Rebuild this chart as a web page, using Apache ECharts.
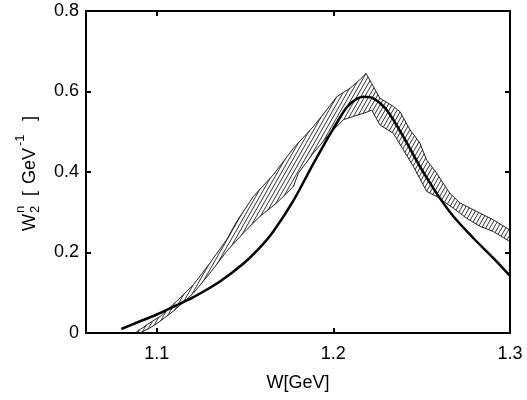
<!DOCTYPE html>
<html>
<head>
<meta charset="utf-8">
<script src="https://cdn.jsdelivr.net/npm/echarts@6/dist/echarts.min.js"></script>
<style>
html,body{margin:0;padding:0;background:#fff;}
#chart{width:527px;height:400px;}
</style>
</head>
<body>
<div id="chart"></div>
<script>
// Theory curve (thick line)
const theoryX = [1.080, 1.090, 1.100, 1.110, 1.1208, 1.1358, 1.149, 1.158, 1.166, 1.1774, 1.1887, 1.200, 1.2076, 1.213, 1.217, 1.2226, 1.2302, 1.2396, 1.249, 1.2585, 1.2679, 1.2792, 1.2906, 1.300];
const theoryY = [0.010, 0.028, 0.046, 0.066, 0.089, 0.128, 0.172, 0.210, 0.252, 0.329, 0.421, 0.508, 0.561, 0.581, 0.587, 0.583, 0.554, 0.488, 0.414, 0.347, 0.290, 0.236, 0.186, 0.142];

// Data band: upper edge
const upperX = [1.0877, 1.0950, 1.1019, 1.1113, 1.1208, 1.1302, 1.1396, 1.1453, 1.1547, 1.166, 1.1774, 1.1887, 1.1962, 1.2019, 1.2094, 1.215, 1.2185, 1.2217, 1.2264, 1.2340, 1.2377, 1.2434, 1.249, 1.2528, 1.2585, 1.266, 1.2717, 1.2811, 1.2906, 1.300];
const upperY = [0.000, 0.022, 0.041, 0.079, 0.120, 0.174, 0.232, 0.277, 0.339, 0.393, 0.459, 0.513, 0.554, 0.587, 0.608, 0.629, 0.645, 0.620, 0.583, 0.563, 0.550, 0.505, 0.472, 0.430, 0.397, 0.347, 0.323, 0.302, 0.281, 0.256];

// Data band: lower edge
const lowerX = [1.0906, 1.0960, 1.1019, 1.1094, 1.1208, 1.1302, 1.1396, 1.149, 1.1585, 1.1679, 1.1774, 1.1802, 1.1887, 1.1981, 1.2057, 1.2113, 1.2198, 1.2217, 1.2264, 1.2340, 1.2396, 1.2453, 1.2528, 1.2585, 1.2679, 1.2755, 1.283, 1.2906, 1.300];
const lowerY = [0.000, 0.012, 0.029, 0.054, 0.099, 0.149, 0.203, 0.248, 0.290, 0.323, 0.364, 0.397, 0.447, 0.496, 0.530, 0.538, 0.550, 0.554, 0.517, 0.496, 0.455, 0.414, 0.352, 0.339, 0.310, 0.285, 0.265, 0.252, 0.227];

const xTicks = [1.1, 1.2, 1.3];
const yTicks = [0, 0.2, 0.4, 0.6, 0.8];

const FONT = 'Liberation Sans, Arial, Helvetica, sans-serif';
const FS = 18;

// hatch pattern
const pat = document.createElement('canvas');
const pw = 4, ph = 7;
pat.width = pw; pat.height = ph;
const pc = pat.getContext('2d');
pc.strokeStyle = '#333';
pc.lineWidth = 1;
pc.beginPath();
for (let k = -1; k <= 1; k++) {
  pc.moveTo(k * pw, ph);
  pc.lineTo((k + 1) * pw, 0);
}
pc.stroke();

const zip = (xs, ys) => xs.map((x, i) => [x, ys[i]]);

const chart = echarts.init(document.getElementById('chart'), null, {renderer: 'canvas'});

const axisCommon = {
  axisLine: {show: true, onZero: false, lineStyle: {color: '#000', width: 2}},
  axisTick: {show: true, inside: true, length: 5, lineStyle: {color: '#000', width: 2}},
  splitLine: {show: false}
};

chart.setOption({
  animation: false,
  backgroundColor: '#fff',
  grid: {left: 86, right: 17, top: 11, bottom: 67, containLabel: false},
  xAxis: [
    Object.assign({}, axisCommon, {
      type: 'value', min: 1.06, max: 1.3, position: 'bottom',
      axisTick: Object.assign({}, axisCommon.axisTick, {customValues: xTicks}),
      axisLabel: {customValues: xTicks, color: '#000', fontSize: FS, fontFamily: FONT, margin: 12,
        formatter: v => v.toFixed(1)},
      name: 'W[GeV]', nameLocation: 'middle', nameGap: 41,
      nameTextStyle: {color: '#000', fontSize: FS, fontFamily: FONT}
    }),
    Object.assign({}, axisCommon, {
      type: 'value', min: 1.06, max: 1.3, position: 'top',
      axisTick: Object.assign({}, axisCommon.axisTick, {customValues: xTicks}),
      axisLabel: {show: false}
    })
  ],
  yAxis: [
    Object.assign({}, axisCommon, {
      type: 'value', min: 0, max: 0.8, interval: 0.2, position: 'left',
      axisLabel: {color: '#000', fontSize: FS, fontFamily: FONT, margin: 7,
        formatter: v => (v === 0 ? '0' : String(Math.round(v * 10) / 10))}
    }),
    Object.assign({}, axisCommon, {
      type: 'value', min: 0, max: 0.8, interval: 0.2, position: 'right',
      axisLabel: {show: false}
    })
  ],
  graphic: [{
    type: 'group',
    x: 30, y: 231,
    rotation: Math.PI / 2,
    children: [
      {type: 'text', x: 0, y: 0, style: {text: 'W', fontSize: FS, fontFamily: FONT, fill: '#000', verticalAlign: 'middle', align: 'left'}},
      {type: 'text', x: 18, y: -10, style: {text: 'n', fontSize: 13, fontFamily: FONT, fill: '#000', verticalAlign: 'middle', align: 'left'}},
      {type: 'text', x: 18, y: 5, style: {text: '2', fontSize: 13, fontFamily: FONT, fill: '#000', verticalAlign: 'middle', align: 'left'}},
      {type: 'text', x: 35, y: 0, style: {text: '[', fontSize: FS, fontFamily: FONT, fill: '#000', verticalAlign: 'middle', align: 'left'}},
      {type: 'text', x: 47, y: 0, style: {text: 'GeV', fontSize: FS, fontFamily: FONT, fill: '#000', verticalAlign: 'middle', align: 'left'}},
      {type: 'text', x: 85, y: -10, style: {text: '-1', fontSize: 13, fontFamily: FONT, fill: '#000', verticalAlign: 'middle', align: 'left'}},
      {type: 'text', x: 110, y: 0, style: {text: ']', fontSize: FS, fontFamily: FONT, fill: '#000', verticalAlign: 'middle', align: 'left'}}
    ]
  }],
  series: [
    {
      type: 'custom',
      xAxisIndex: 0, yAxisIndex: 0,
      data: [0],
      silent: true,
      z: 1,
      renderItem: function (params, api) {
        const pts = [];
        for (let i = 0; i < upperX.length; i++) pts.push(api.coord([upperX[i], upperY[i]]));
        for (let i = lowerX.length - 1; i >= 0; i--) pts.push(api.coord([lowerX[i], lowerY[i]]));
        return {type: 'polygon', shape: {points: pts}, style: {fill: {image: pat, repeat: 'repeat'}, stroke: null}};
      }
    },
    {
      type: 'line', data: zip(upperX, upperY), showSymbol: false, symbol: 'none', z: 2,
      lineStyle: {color: '#222', width: 1}
    },
    {
      type: 'line', data: zip(lowerX, lowerY), showSymbol: false, symbol: 'none', z: 2,
      lineStyle: {color: '#222', width: 1}
    },
    {
      type: 'line', data: zip(theoryX, theoryY), showSymbol: false, symbol: 'none', smooth: 0.3, z: 3,
      lineStyle: {color: '#000', width: 2.5}
    }
  ]
});
</script>
</body>
</html>
